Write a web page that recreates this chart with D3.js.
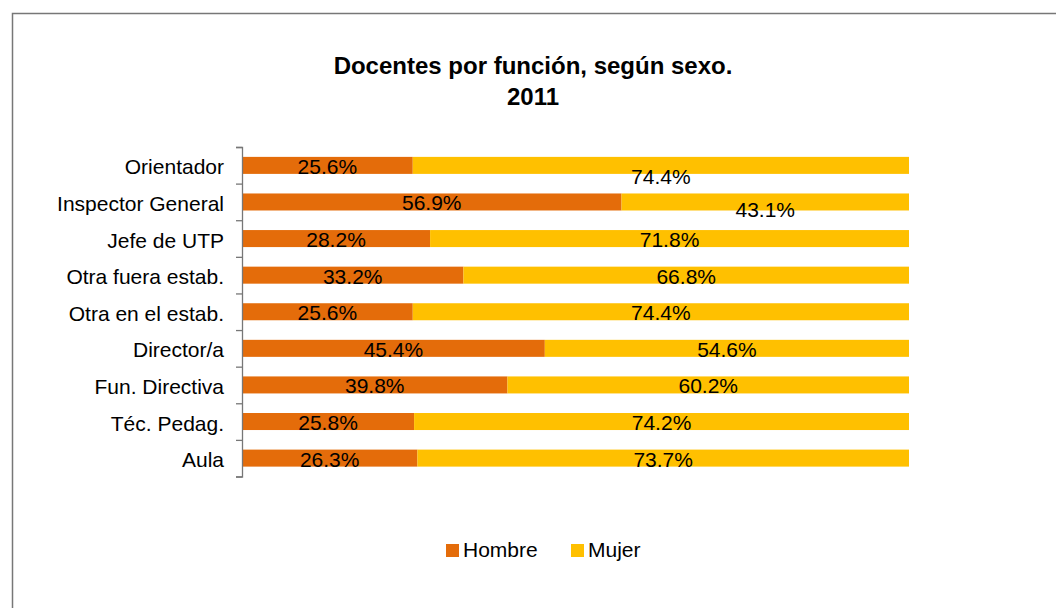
<!DOCTYPE html>
<html>
<head>
<meta charset="utf-8">
<script src="https://cdn.jsdelivr.net/npm/d3@7"></script>
<style>
  body { margin: 0; background: #fff; }
  svg { font-family: "Liberation Sans", Arial, sans-serif; }
</style>
</head>
<body>
<svg id="chart"></svg>
<script>
const width = 1056;
const height = 608;

// data (top to bottom)
const categories = ["Orientador", "Inspector General", "Jefe de UTP", "Otra fuera estab.",
  "Otra en el estab.", "Director/a", "Fun. Directiva", "Téc. Pedag.", "Aula"];
const hombre = [25.6, 56.9, 28.2, 33.2, 25.6, 45.4, 39.8, 25.8, 26.3];
const mujer = [74.4, 43.1, 71.8, 66.8, 74.4, 54.6, 60.2, 74.2, 73.7];
const seriesNames = ["Hombre", "Mujer"];
const colors = ["#E46C0A", "#FFC000"];

const svg = d3.select("#chart")
  .attr("width", width)
  .attr("height", height);

// outer frame
svg.append("rect")
  .attr("x", 12.5).attr("y", 13.5)
  .attr("width", 1060).attr("height", 620)
  .attr("fill", "none")
  .attr("stroke", "#777")
  .attr("stroke-width", 1.5);

svg.append("text")
  .attr("x", 533).attr("y", 74)
  .attr("text-anchor", "middle")
  .attr("font-size", 24).attr("font-weight", "bold")
  .text("Docentes por función, según sexo.");
svg.append("text")
  .attr("x", 533).attr("y", 105)
  .attr("text-anchor", "middle")
  .attr("font-size", 24).attr("font-weight", "bold")
  .text("2011");

const x = d3.scaleLinear().domain([0, 100]).range([242, 909]);
const y = d3.scaleBand().domain(categories).range([147, 476.5]).paddingInner(0.535).paddingOuter(0.27);

const rows = categories.map((c, i) => ({cat: c, Hombre: hombre[i], Mujer: mujer[i]}));
const stacked = d3.stack().keys(seriesNames)(rows);

const g = svg.append("g");

stacked.forEach((layer, k) => {
  g.selectAll(null)
    .data(layer)
    .join("rect")
    .attr("x", d => x(d[0]))
    .attr("y", d => y(d.data.cat))
    .attr("width", d => x(d[1]) - x(d[0]))
    .attr("height", y.bandwidth())
    .attr("fill", colors[k]);
});

// a couple of labels sit lower in the original
const mujerLabelDrop = {"Orientador": 10, "Inspector General": 7};

stacked.forEach((layer, k) => {
  g.selectAll(null)
    .data(layer)
    .join("text")
    .attr("x", d => (x(d[0]) + x(d[1])) / 2)
    .attr("y", d => y(d.data.cat) + y.bandwidth() / 2 + 8.5 + (k === 1 ? (mujerLabelDrop[d.data.cat] || 0) : 0))
    .attr("text-anchor", "middle")
    .attr("font-size", 21)
    .attr("fill", "#000")
    .text(d => d3.format(".1f")(d[1] - d[0]) + "%");
});

// category axis
const axis = d3.axisLeft(d3.scaleLinear().domain([0, categories.length]).range([147, 476.5]))
  .ticks(categories.length)
  .tickSize(6)
  .tickFormat("");
const ax = svg.append("g").attr("transform", "translate(242,0)").call(axis);
ax.select(".domain").attr("stroke", "#777").attr("stroke-width", 1.3);
ax.selectAll(".tick line").attr("stroke", "#777").attr("stroke-width", 1.3);

svg.append("g").selectAll("text")
  .data(categories)
  .join("text")
  .attr("x", 224)
  .attr("y", d => y(d) + y.bandwidth() / 2 + 9)
  .attr("text-anchor", "end")
  .attr("font-size", 21)
  .text(d => d);

// legend
const legendX = [446, 571];
const legend = svg.append("g");
seriesNames.forEach((s, i) => {
  legend.append("rect")
    .attr("x", legendX[i]).attr("y", 544)
    .attr("width", 13).attr("height", 13)
    .attr("fill", colors[i]);
  legend.append("text")
    .attr("x", legendX[i] + 17).attr("y", 557)
    .attr("font-size", 21)
    .text(s);
});
</script>
</body>
</html>
